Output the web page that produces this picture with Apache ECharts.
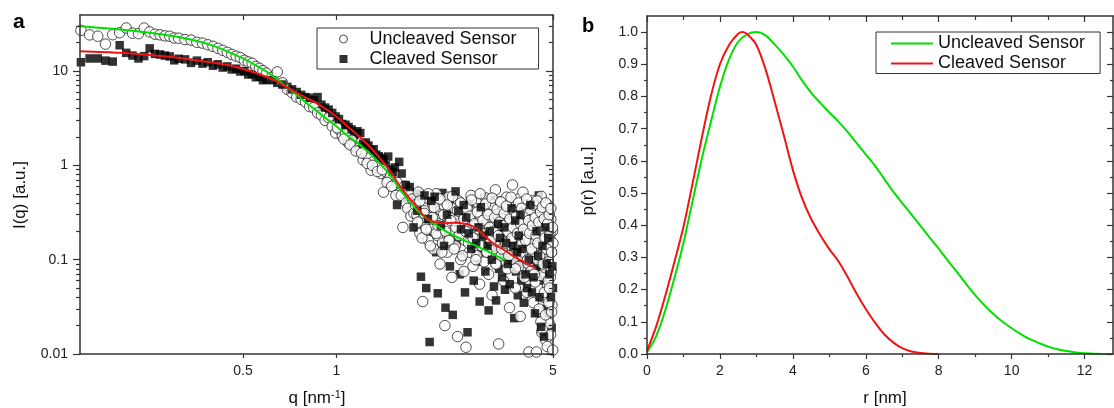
<!DOCTYPE html>
<html><head><meta charset="utf-8">
<script src="https://cdn.jsdelivr.net/npm/echarts@6/dist/echarts.min.js"></script>
<style>html,body{margin:0;padding:0;background:#fff}#c{width:1114px;height:408px}</style>
</head><body><div id="c"></div>
<script>
const FONT = '"Liberation Sans", Arial, Helvetica, sans-serif';

// ---------- Panel a: scattering curves ----------
const qTicks = [0.5, 1, 5];
const iMajorTicks = [0.01, 0.1, 1, 10];
const iMinorTicks = [0.02,0.03,0.04,0.05,0.06,0.07,0.08,0.09,0.2,0.3,0.4,0.5,0.6,0.7,0.8,0.9,2,3,4,5,6,7,8,9,20,30];

const uncleavedPts = [
 [0.15,27.0],[0.16,24.2],[0.17,23.4],[0.18,19.3],[0.19,24.3],[0.20,25.5],[0.21,28.6],[0.22,25.2],[0.23,24.9],[0.24,28.6],[0.25,26.0],[0.26,24.6],[0.27,24.2],[0.28,23.6],[0.29,23.4],[0.30,22.4],
 [0.31,22.3],[0.325,21.6],[0.34,21.3],[0.355,20.2],[0.37,19.8],[0.385,19.0],[0.40,18.3],[0.415,17.4],[0.43,16.6],[0.445,15.8],[0.46,15.0],[0.475,14.4],[0.49,13.9],[0.505,13.0],[0.52,12.5],[0.535,12.1],[0.55,11.2],[0.565,10.7],[0.58,10.1],[0.595,9.5],
 [0.62,8.6],[0.645,9.8],[0.67,7.5],[0.695,6.4],[0.72,5.9],[0.745,5.3],[0.77,5.0],[0.795,4.7],[0.82,4.2],[0.845,4.1],[0.87,3.6],[0.895,3.4],[0.92,3.0],[0.945,3.2],[0.97,2.6],[0.995,2.2],[1.02,2.4],[1.045,2.05],[1.07,2.15],[1.095,1.72],[1.12,1.85],[1.145,1.6],[1.17,1.5],[1.195,1.45],[1.22,1.14],[1.245,1.3],[1.27,1.2],[1.295,0.89],[1.32,1.1],[1.345,0.95],[1.37,0.98],[1.395,0.82],[1.42,0.52],[1.445,0.85],[1.47,0.7],[1.495,0.76],[1.52,0.62],[1.545,0.58],[1.57,0.66],[1.595,0.5],
 [1.0075,2.5],[1.0575,1.9],[1.1075,1.65],[1.1575,1.42],[1.2075,1.35],[1.2575,1.05],[1.3075,1.0],[1.3575,0.86],[1.4075,0.9],[1.4575,0.66],[1.5075,0.6],[1.5575,0.48],
 [1.62,0.48],[1.64,0.22],[1.66,0.60],[1.68,0.40],[1.70,0.35],[1.72,0.52],[1.74,0.29],[1.76,0.44],[1.78,0.31],[1.80,0.38],
 [1.82,0.30],[1.84,0.52],[1.86,0.19],[1.88,0.26],[1.90,0.036],[1.92,0.33],[1.94,0.22],[1.96,0.45],[1.98,0.16],[2.00,0.28],
 [2.02,0.21],[2.04,0.40],[2.06,0.13],[2.08,0.27],[2.10,0.50],[2.12,0.18],[2.14,0.24],[2.16,0.09],[2.18,0.33],[2.20,0.15],
 [2.22,0.38],[2.24,0.020],[2.26,0.23],[2.28,0.12],[2.30,0.46],[2.32,0.17],[2.34,0.28],[2.36,0.065],[2.38,0.20],[2.40,0.35],
 [2.42,0.14],[2.44,0.26],[2.46,0.0153],[2.48,0.42],[2.50,0.19],[2.52,0.10],[2.54,0.31],[2.56,0.23],[2.58,0.075],[2.60,0.16],
 [2.62,0.0118],[2.64,0.36],[2.66,0.21],[2.68,0.12],[2.70,0.27],[2.72,0.48],[2.74,0.15],[2.76,0.085],[2.78,0.19],[2.80,0.32],
 [2.82,0.23],[2.84,0.11],[2.86,0.40],[2.88,0.17],[2.90,0.055],[2.92,0.29],[2.94,0.14],[2.96,0.21],[2.98,0.35],[3.00,0.095],
 [3.02,0.18],[3.04,0.45],[3.06,0.12],[3.08,0.26],[3.10,0.07],[3.12,0.33],[3.14,0.16],[3.16,0.22],[3.18,0.042],[3.20,0.38],
 [3.22,0.13],[3.24,0.24],[3.26,0.55],[3.28,0.09],[3.30,0.19],[3.32,0.30],[3.34,0.0128],[3.36,0.15],[3.38,0.41],[3.40,0.11],
 [3.42,0.27],[3.44,0.17],[3.46,0.06],[3.48,0.35],[3.50,0.21],[3.52,0.13],[3.54,0.46],[3.56,0.08],[3.58,0.25],[3.60,0.19],
 [3.62,0.031],[3.64,0.32],[3.66,0.14],[3.68,0.22],[3.70,0.62],[3.72,0.10],[3.74,0.28],[3.76,0.17],[3.78,0.05],[3.80,0.37],
 [3.82,0.12],[3.84,0.24],[3.86,0.44],[3.88,0.085],[3.90,0.20],[3.92,0.025],[3.94,0.31],[3.96,0.15],[3.98,0.11],[4.00,0.52],
 [4.02,0.18],[4.04,0.065],[4.06,0.27],[4.08,0.13],[4.10,0.38],[4.12,0.045],[4.14,0.22],[4.16,0.09],[4.18,0.0105],[4.20,0.16],
 [4.22,0.33],[4.24,0.075],[4.26,0.20],[4.28,0.12],[4.30,0.42],[4.32,0.035],[4.34,0.26],[4.36,0.15],[4.38,0.058],[4.40,0.29],
 [4.42,0.0105],[4.44,0.19],[4.46,0.10],[4.48,0.36],[4.50,0.028],[4.52,0.14],[4.54,0.24],[4.56,0.068],[4.58,0.47],[4.60,0.017],
 [4.62,0.21],[4.64,0.11],[4.66,0.04],[4.68,0.30],[4.70,0.16],[4.72,0.082],[4.74,0.014],[4.76,0.25],[4.78,0.13],[4.80,0.052],
 [4.82,0.38],[4.84,0.095],[4.86,0.021],[4.88,0.17],[4.90,0.065],[4.92,0.27],[4.94,0.12],[4.96,0.033],[4.98,0.20],[5.00,0.15],
 [1.83,0.25],[1.86,0.42],[1.89,0.17],[1.92,0.31],[1.95,0.21],[1.98,0.5],[2.01,0.14],[2.04,0.28],[2.07,0.36],[2.10,0.19],
 [2.13,0.23],[2.16,0.44],[2.19,0.12],[2.22,0.3],[2.25,0.2],[2.28,0.38],[2.31,0.16],[2.34,0.26],[2.37,0.47],[2.40,0.13],
 [2.43,0.22],[2.46,0.33],[2.49,0.18],[2.52,0.4],[2.55,0.11],[2.58,0.27],[2.61,0.2],[2.64,0.35],[2.67,0.15],[2.70,0.29],
 [2.73,0.43],[2.76,0.17],[2.79,0.24],[2.82,0.1],[2.85,0.32],[2.88,0.21],[2.91,0.5],[2.94,0.14],[2.97,0.26],[3.00,0.19],
 [3.03,0.39],[3.06,0.12],[3.09,0.3],[3.12,0.22],[3.15,0.16],[3.18,0.45],[3.21,0.2],[3.24,0.28],[3.27,0.09],[3.30,0.34],
 [3.33,0.18],[3.36,0.25],[3.39,0.41],[3.42,0.13],[3.45,0.23],[3.48,0.31],[3.51,0.15],[3.54,0.37],[3.57,0.2],[3.60,0.11],
 [3.63,0.27],[3.66,0.46],[3.69,0.17],[3.72,0.22],[3.75,0.33],[3.78,0.08],[3.81,0.29],[3.84,0.19],[3.87,0.4],[3.90,0.14],
 [3.93,0.24],[3.96,0.35],[3.99,0.12],[4.02,0.21],[4.05,0.3],[4.08,0.16],[4.11,0.44],[4.14,0.1],[4.17,0.26],[4.20,0.19],
 [4.23,0.34],[4.26,0.13],[4.29,0.23],[4.32,0.38],[4.35,0.07],[4.38,0.28],[4.41,0.18],[4.44,0.42],[4.47,0.15],[4.50,0.25],
 [4.53,0.11],[4.56,0.32],[4.59,0.2],[4.62,0.36],[4.65,0.09],[4.68,0.27],[4.71,0.17],[4.74,0.4],[4.77,0.13],[4.80,0.24],
 [4.83,0.06],[4.86,0.3],[4.89,0.19],[4.92,0.35],[4.95,0.12],[4.98,0.22],
 [4.51,0.03],[4.57,0.022],[4.63,0.018],[4.69,0.045],[4.73,0.026],[4.79,0.012],[4.85,0.035],[4.91,0.016],[4.95,0.028],[4.99,0.011],[4.87,0.05],[4.93,0.075]
];

const cleavedPts = [
 [0.15,12.4],[0.16,13.6],[0.17,13.6],[0.18,12.9],[0.19,12.6],[0.20,18.8],[0.21,15.6],[0.22,14.6],[0.23,13.6],[0.24,14.4],[0.25,17.4],[0.26,15.2],[0.27,15.0],[0.28,14.6],[0.29,14.3],[0.30,13.0],
 [0.31,13.5],[0.325,13.3],[0.34,12.2],[0.355,12.9],[0.37,12.0],[0.385,12.4],[0.40,11.4],[0.415,11.8],[0.43,10.9],[0.445,11.2],[0.46,10.4],[0.475,10.6],[0.49,9.9],[0.505,10.0],[0.52,9.2],[0.535,9.3],[0.55,8.6],[0.565,8.7],[0.58,8.0],[0.595,8.1],
 [0.62,8.0],[0.645,7.5],[0.67,7.2],[0.695,6.8],[0.72,6.4],[0.745,6.0],[0.77,5.6],[0.795,5.3],[0.82,5.2],[0.845,4.9],[0.87,5.3],[0.895,4.4],[0.92,4.1],[0.945,3.9],[0.97,3.6],[0.995,3.3],[1.02,3.1],[1.045,2.75],[1.07,2.7],[1.095,2.55],[1.12,2.4],[1.145,2.1],[1.17,2.3],[1.195,2.2],[1.22,1.7],[1.245,1.75],[1.27,1.62],[1.295,1.45],[1.32,1.48],[1.345,1.3],[1.37,1.25],[1.395,1.2],[1.42,1.15],[1.445,1.0],[1.47,1.24],[1.495,0.9],[1.52,0.85],[1.545,0.95],[1.57,0.38],[1.595,1.09],
 [1.625,0.82],[1.65,0.55],[1.675,0.62],[1.7,0.45],[1.725,0.59],[1.75,0.4],[1.775,0.22],[1.8,0.46],[1.825,0.33],[1.85,0.5],
 [1.875,0.066],[1.9,0.3],[1.925,0.48],[1.95,0.05],[1.975,0.27],[2.0,0.0134],[2.025,0.42],[2.05,0.2],[2.075,0.465],[2.1,0.12],
 [2.125,0.044],[2.15,0.35],[2.175,0.23],[2.2,0.51],[2.225,0.14],[2.25,0.031],[2.275,0.3],[2.3,0.18],[2.325,0.085],[2.35,0.44],
 [2.375,0.026],[2.4,0.25],[2.425,0.53],[2.45,0.16],[2.475,0.33],[2.5,0.07],[2.525,0.21],[2.55,0.11],[2.575,0.38],[2.6,0.045],
 [2.625,0.28],[2.65,0.017],[2.675,0.19],[2.7,0.41],[2.725,0.13],[2.75,0.24],[2.775,0.06],[2.8,0.32],[2.825,0.15],[2.85,0.095],
 [2.875,0.22],[2.9,0.036],[2.925,0.36],[2.95,0.12],[2.975,0.18],[3.0,0.45],[3.025,0.075],[3.05,0.26],[3.075,0.14],[3.1,0.029],
 [3.125,0.2],[3.15,0.43],[3.175,0.1],[3.2,0.16],[3.225,0.052],[3.25,0.3],[3.275,0.037],[3.3,0.13],[3.325,0.24],[3.35,0.08],
 [3.375,0.17],[3.4,0.37],[3.425,0.065],[3.45,0.11],[3.475,0.22],[3.5,0.048],[3.525,0.15],[3.55,0.29],[3.575,0.09],[3.6,0.13],
 [3.625,0.055],[3.65,0.19],[3.675,0.35],[3.7,0.1],[3.725,0.14],[3.75,0.024],[3.775,0.26],[3.8,0.075],[3.825,0.12],[3.85,0.042],
 [3.875,0.18],[3.9,0.09],[3.925,0.3],[3.95,0.06],[3.975,0.13],[4.0,0.21],[4.025,0.035],[4.05,0.11],[4.075,0.07],[4.1,0.16],
 [4.125,0.05],[4.15,0.25],[4.175,0.1],[4.2,0.085],[4.225,0.38],[4.25,0.13],[4.275,0.045],[4.3,0.18],[4.325,0.065],[4.35,0.09],
 [4.375,0.027],[4.4,0.15],[4.425,0.2],[4.45,0.075],[4.475,0.11],[4.5,0.48],[4.525,0.04],[4.55,0.12],[4.575,0.0194],[4.6,0.08],
 [4.625,0.14],[4.65,0.06],[4.675,0.0153],[4.7,0.1],[4.725,0.22],[4.75,0.03],[4.775,0.09],[4.8,0.055],[4.825,0.17],[4.85,0.027],
 [4.875,0.07],[4.9,0.12],[4.925,0.04],[4.95,0.019],[4.975,0.085],[5.0,0.05]
];

const fitQUncleaved = [0.149,0.2,0.25,0.3,0.35,0.4,0.45,0.5,0.55,0.6,0.65,0.7,0.75,0.8,0.85,0.9,0.95,1.0,1.1,1.2,1.3,1.4,1.5,1.6,1.7,1.8,1.9,2.0,2.2,2.4,2.6,2.8,3.0,3.2,3.5];
const fitIUncleaved = [29.8,27.6,25.5,23.4,21.1,18.6,15.9,13.6,11.5,9.7,8.0,6.6,5.5,4.6,3.95,3.4,2.95,2.6,2.0,1.62,1.28,1.0,0.77,0.56,0.44,0.35,0.295,0.26,0.21,0.18,0.158,0.142,0.128,0.115,0.099];
const fitQCleaved = [0.149,0.2,0.25,0.3,0.35,0.4,0.45,0.5,0.55,0.6,0.65,0.7,0.75,0.8,0.85,0.9,0.95,1.0,1.1,1.2,1.3,1.4,1.5,1.6,1.7,1.8,1.9,2.0,2.1,2.2,2.4,2.6,2.8,3.0,3.2,3.5,3.8,4.1,4.4];
const fitICleaved = [16.2,15.6,14.8,14.0,13.0,12.3,11.5,10.5,9.5,8.6,7.64,6.6,5.8,5.2,4.7,4.2,3.75,3.3,2.5,1.95,1.5,1.13,0.85,0.61,0.47,0.38,0.3,0.262,0.248,0.244,0.246,0.24,0.22,0.18,0.15,0.125,0.105,0.092,0.081];

// ---------- Panel b: distance distributions ----------
const rMajorTicks = [0,2,4,6,8,10,12];
const rMinorTicks = [1,3,5,7,9,11];
const pMajorTicks = [0,0.1,0.2,0.3,0.4,0.5,0.6,0.7,0.8,0.9,1.0];
const pMinorTicks = [0.05,0.15,0.25,0.35,0.45,0.55,0.65,0.75,0.85,0.95];

const rUncleaved = [0,0.25,0.5,0.75,1,1.25,1.5,1.75,2,2.25,2.5,2.75,3,3.25,3.5,3.75,4,4.25,4.5,4.75,5,5.25,5.5,5.75,6,6.25,6.5,6.75,7,7.25,7.5,7.75,8,8.25,8.5,8.75,9,9.25,9.5,9.75,10,10.25,10.5,10.75,11,11.25,11.5,11.75,12,12.25,12.5,12.78];
const pUncleaved = [0.005,0.055,0.135,0.235,0.345,0.475,0.605,0.72,0.83,0.915,0.97,0.993,1.0,0.99,0.962,0.93,0.893,0.85,0.812,0.78,0.75,0.722,0.69,0.655,0.62,0.585,0.545,0.505,0.469,0.434,0.398,0.362,0.327,0.29,0.255,0.218,0.183,0.152,0.124,0.1,0.08,0.062,0.046,0.034,0.023,0.015,0.009,0.005,0.002,0.001,0.0,0.0];
const rCleaved = [0,0.25,0.5,0.75,1,1.25,1.5,1.75,2,2.25,2.5,2.625,2.75,3,3.25,3.5,3.75,4,4.25,4.5,4.75,5,5.25,5.5,5.75,6,6.25,6.5,6.75,7,7.25,7.5,7.75,8];
const pCleaved = [0.01,0.085,0.18,0.285,0.395,0.53,0.67,0.8,0.9,0.96,0.995,1.0,0.993,0.96,0.885,0.785,0.68,0.572,0.485,0.42,0.37,0.326,0.288,0.24,0.187,0.14,0.098,0.062,0.036,0.018,0.008,0.003,0.001,0.0];

const GREEN = '#00e000', RED = '#f01414', LINE = '#333';
const zip = (a, b) => a.map((v, i) => [v, b[i]]);
const numFmt = v => String(+(+v).toPrecision(6));
// squares interleave with the circles: alternate points are drawn in front of / behind the circles
const cleavedFront = cleavedPts.filter((p, i) => i % 2 === 0);
const cleavedBack = cleavedPts.filter((p, i) => i % 2 === 1);

function mkAxis(o) {
  const ax = {
    type: o.type, gridIndex: o.grid, position: o.pos, min: o.min, max: o.max, offset: 0,
    axisLine: { show: o.line !== false, onZero: false, lineStyle: { color: LINE, width: 1.5 } },
    axisTick: { show: true, inside: !!o.inside, length: o.len, customValues: o.ticks, lineStyle: { color: LINE, width: 1.2 } },
    axisLabel: o.labels ? { show: true, customValues: o.ticks, formatter: o.fmt, fontSize: 14, color: '#222', fontFamily: FONT, margin: o.margin } : { show: false },
    splitLine: { show: false }, minorTick: { show: false }, minorSplitLine: { show: false },
    silent: true, z: 5
  };
  if (o.type === 'log') ax.logBase = 10;
  return ax;
}

const qMin = 0.149, qMax = 5, iMin = 0.01, iMax = 39.3;
const rMin = 0, rMax = 12.78, pMin = 0, pMax = 1.05;

const xAxes = [
  mkAxis({type:'log', grid:0, pos:'bottom', min:qMin, max:qMax, ticks:qTicks, len:4, labels:true, fmt:numFmt, margin:10}),
  mkAxis({type:'log', grid:0, pos:'top', min:qMin, max:qMax, ticks:qTicks, len:5, inside:true}),
  mkAxis({type:'value', grid:1, pos:'bottom', min:rMin, max:rMax, ticks:rMajorTicks, len:5, labels:true, fmt:numFmt, margin:10}),
  mkAxis({type:'value', grid:1, pos:'bottom', min:rMin, max:rMax, ticks:rMinorTicks, len:3, line:false}),
  mkAxis({type:'value', grid:1, pos:'top', min:rMin, max:rMax, ticks:rMajorTicks, len:6, inside:true}),
  mkAxis({type:'value', grid:1, pos:'top', min:rMin, max:rMax, ticks:rMinorTicks, len:4, inside:true, line:false})
];
const yAxes = [
  mkAxis({type:'log', grid:0, pos:'left', min:iMin, max:iMax, ticks:iMajorTicks, len:7, labels:true, fmt:numFmt, margin:12}),
  mkAxis({type:'log', grid:0, pos:'left', min:iMin, max:iMax, ticks:iMinorTicks, len:4, line:false}),
  mkAxis({type:'log', grid:0, pos:'right', min:iMin, max:iMax, ticks:iMajorTicks, len:7, inside:true}),
  mkAxis({type:'log', grid:0, pos:'right', min:iMin, max:iMax, ticks:iMinorTicks, len:4, inside:true, line:false}),
  mkAxis({type:'value', grid:1, pos:'left', min:pMin, max:pMax, ticks:pMajorTicks, len:6, labels:true, fmt:v => (+v).toFixed(1), margin:9}),
  mkAxis({type:'value', grid:1, pos:'left', min:pMin, max:pMax, ticks:pMinorTicks, len:3, line:false}),
  mkAxis({type:'value', grid:1, pos:'right', min:pMin, max:pMax, ticks:pMajorTicks, len:6, inside:true}),
  mkAxis({type:'value', grid:1, pos:'right', min:pMin, max:pMax, ticks:pMinorTicks, len:3, inside:true, line:false})
];

const option = {
  animation: false,
  backgroundColor: '#fff',
  textStyle: { fontFamily: FONT },
  grid: [
    { left: 80, top: 15, width: 473, height: 339, containLabel: false, outerBoundsMode: 'none' },
    { left: 647, top: 16, width: 466, height: 338, containLabel: false, outerBoundsMode: 'none' }
  ],
  xAxis: xAxes,
  yAxis: yAxes,
  legend: [
    {
      orient: 'vertical', left: 317, top: 28, itemWidth: 8, itemHeight: 8, itemGap: 0,
      padding: [1, 22, 0, 22], borderColor: '#333', borderWidth: 1, selectedMode: false,
      textStyle: { fontSize: 18, lineHeight: 20, color: '#111', fontFamily: FONT, padding: [0, 0, 0, 17] },
      data: [
        { name: 'Uncleaved Sensor', icon: 'circle', itemStyle: { color: '#fff', borderColor: '#222', borderWidth: 1 } },
        { name: 'Cleaved Sensor', icon: 'rect', itemStyle: { color: '#000', borderWidth: 0 } }
      ]
    },
    {
      orient: 'vertical', left: 876, top: 32, itemWidth: 42, itemHeight: 2, itemGap: 0,
      padding: [1.5, 15, 0, 15], borderColor: '#333', borderWidth: 1, selectedMode: false,
      textStyle: { fontSize: 18, lineHeight: 20, color: '#111', fontFamily: FONT },
      formatter: n => n.replace(' (b)', ''),
      data: [
        { name: 'Uncleaved Sensor (b)', icon: 'rect', itemStyle: { color: GREEN, borderWidth: 0 } },
        { name: 'Cleaved Sensor (b)', icon: 'rect', itemStyle: { color: RED, borderWidth: 0 } }
      ]
    }
  ],
  graphic: [
    { type: 'text', x: 13, y: 22, style: { text: 'a', font: 'bold 21px ' + FONT, fill: '#000', textAlign: 'left', verticalAlign: 'middle' } },
    { type: 'text', x: 582, y: 26, style: { text: 'b', font: 'bold 20px ' + FONT, fill: '#000', textAlign: 'left', verticalAlign: 'middle' } },
    { type: 'text', x: 20.5, y: 195, rotation: Math.PI / 2, style: { text: 'I(q) [a.u.]', font: '17px ' + FONT, fill: '#111', textAlign: 'center', verticalAlign: 'middle' } },
    { type: 'text', x: 588, y: 181, rotation: Math.PI / 2, style: { text: 'p(r) [a.u.]', font: '17px ' + FONT, fill: '#111', textAlign: 'center', verticalAlign: 'middle' } },
    { type: 'text', x: 317, y: 398, style: { text: '{a|q [nm}{s|-1}{a|]}', textAlign: 'center', verticalAlign: 'middle',
        rich: { a: { fontSize: 17, fontFamily: FONT, fill: '#111', color: '#111', lineHeight: 18 }, s: { fontSize: 11, fontFamily: FONT, color: '#111', fill: '#111', verticalAlign: 'top', lineHeight: 11 } } } },
    { type: 'text', x: 885, y: 398, style: { text: 'r [nm]', font: '17px ' + FONT, fill: '#111', textAlign: 'center', verticalAlign: 'middle' } }
  ],
  series: [
    { name: 'Cleaved Sensor', type: 'scatter', xAxisIndex: 0, yAxisIndex: 0, data: cleavedBack, symbol: 'rect', symbolSize: 8.5,
      itemStyle: { color: '#000' }, z: 1, silent: true },
    { name: 'Uncleaved Sensor', type: 'scatter', xAxisIndex: 0, yAxisIndex: 0, data: uncleavedPts, symbol: 'circle', symbolSize: 10.5,
      itemStyle: { color: '#fff', borderColor: '#222', borderWidth: 1 }, z: 2, silent: true },
    { name: 'Cleaved Sensor', type: 'scatter', xAxisIndex: 0, yAxisIndex: 0, data: cleavedFront, symbol: 'rect', symbolSize: 8.5,
      itemStyle: { color: '#000' }, z: 3, silent: true },
    { name: 'Uncleaved fit', type: 'line', xAxisIndex: 0, yAxisIndex: 0, data: zip(fitQUncleaved, fitIUncleaved), smooth: 0.3,
      symbol: 'none', lineStyle: { color: GREEN, width: 2 }, z: 4, silent: true },
    { name: 'Cleaved fit', type: 'line', xAxisIndex: 0, yAxisIndex: 0, data: zip(fitQCleaved, fitICleaved), smooth: 0.3,
      symbol: 'none', lineStyle: { color: RED, width: 2 }, z: 4, silent: true },
    { name: 'Uncleaved Sensor (b)', type: 'line', xAxisIndex: 2, yAxisIndex: 4, data: zip(rUncleaved, pUncleaved), smooth: 0.3,
      symbol: 'none', itemStyle: { color: GREEN }, lineStyle: { color: GREEN, width: 2 }, z: 4, silent: true },
    { name: 'Cleaved Sensor (b)', type: 'line', xAxisIndex: 2, yAxisIndex: 4, data: zip(rCleaved, pCleaved), smooth: 0.3,
      symbol: 'none', itemStyle: { color: RED }, lineStyle: { color: RED, width: 2 }, z: 4, silent: true }
  ]
};

const chart = echarts.init(document.getElementById('c'), null, { renderer: 'canvas' });
chart.setOption(option);
</script>
</body></html>
